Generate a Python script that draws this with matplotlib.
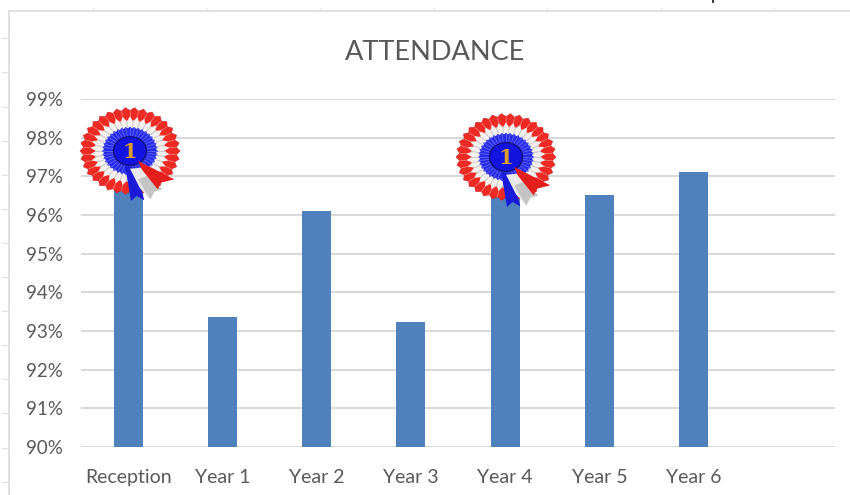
import matplotlib
matplotlib.use("Agg")
import matplotlib.pyplot as plt
from matplotlib.patches import Polygon, Ellipse
import numpy as np

categories = ["Reception", "Year 1", "Year 2", "Year 3", "Year 4", "Year 5", "Year 6", ""]
attendance = [96.7, 93.37, 96.1, 93.22, 96.6, 96.53, 97.1, np.nan]
y_ticks = [90, 91, 92, 93, 94, 95, 96, 97, 98, 99]

# sheet furniture behind the chart, in pixels
top_ticks = [93, 207, 320, 434, 547, 661, 774]
left_ticks = [38, 72, 107, 141, 175, 209, 243, 277, 311, 345, 379, 413, 448, 482]
rosettes = [(130, 151), (506, 157)]

W, H = 850, 495
SQUASH = 0.87  # the rosette picture is stretched sideways
plt.rcParams["font.family"] = ["Lato", "DejaVu Sans"]


def star(cx, cy, n, r_out, r_in, phase=0.0):
    ang = phase + np.pi * np.arange(2 * n) / n
    rad = np.where(np.arange(2 * n) % 2 == 0, r_out, r_in)
    return np.c_[cx + rad * np.cos(ang), cy + SQUASH * rad * np.sin(ang)]


def spokes(ax, cx, cy, angles, r0, r1, color, lw, z):
    for a in angles:
        ax.plot([cx + r0 * np.cos(a), cx + r1 * np.cos(a)],
                [cy + SQUASH * r0 * np.sin(a), cy + SQUASH * r1 * np.sin(a)],
                color=color, lw=lw, zorder=z)


def draw_rosette(ax, cx, cy):
    def rib(pts, color):
        pts = [(cx + (a - 165) / 3, cy + (b - 150) / 3) for a, b in pts]
        ax.add_patch(Polygon(pts, fc=color, ec="none", zorder=6))

    n = 34
    ax.add_patch(Polygon(star(cx, cy, n, 50, 46.5), fc="#ee2a24", ec="#d02020", lw=0.4, zorder=4))
    spokes(ax, cx, cy, np.pi * (2 * np.arange(n) + 1) / n, 40, 46, "#f08a80", 0.5, 4.2)
    ax.add_patch(Polygon(star(cx, cy, n, 40, 34, np.pi / n), fc="#f4f0ee", ec="none", zorder=4.5))
    spokes(ax, cx, cy, 2 * np.pi * np.arange(n) / n, 28, 35, "#c8c8c8", 0.7, 4.6)

    ax.add_patch(Polygon(star(cx, cy, 40, 28, 26), fc="#2a2ae8", ec="none", zorder=5))
    spokes(ax, cx, cy, 2 * np.pi * np.arange(40) / 40, 17, 27, "#5a6cf5", 0.6, 5.1)
    ax.add_patch(Ellipse((cx, cy), 33, 33 * SQUASH, fc="#1414e0", ec="#10107a", lw=1.0, zorder=5.2))
    ax.text(cx, cy + 0.5, "1", family="DejaVu Serif", weight="bold", fontsize=15,
            color="#d9a02e", ha="center", va="center", zorder=5.4)

    rib([(150, 195), (182, 200), (208, 298), (185, 285), (168, 300), (158, 240)], "#1a1ad8")
    rib([(165, 203), (200, 200), (262, 265), (238, 272), (226, 295), (195, 262)], "#e8e8e8")
    rib([(190, 235), (215, 225), (262, 265), (238, 272), (226, 295), (205, 262)], "#c4c4c4")
    rib([(190, 180), (298, 235), (258, 245), (248, 265), (200, 205)], "#e41d1d")


fig = plt.figure(figsize=(W / 100, H / 100), dpi=100)
ax = fig.add_axes([81 / W, 1 - 447 / H, 754 / W, 348 / H])

x = np.arange(len(categories))
ax.bar(x, attendance, width=0.31, color="#4f81bd", zorder=3)

ax.set_xlim(-0.5, 7.5)
ax.set_ylim(90, 99)
ax.set_xticks(x)
ax.set_xticklabels(categories)
ax.set_yticks(y_ticks)
ax.set_yticklabels([f"{v}%" for v in y_ticks])
ax.tick_params(length=0, labelcolor="#595959")
ax.tick_params(axis="x", pad=15.5, labelsize=14)
ax.tick_params(axis="y", pad=13, labelsize=13.5)
ax.grid(axis="y", color="#d9d9d9", lw=1.5, zorder=0)
ax.set_axisbelow(True)
for s in ax.spines.values():
    s.set_visible(False)
ax.patch.set_visible(False)

# overlay in pixel coordinates for the sheet edge and the rosettes
ov = fig.add_axes([0, 0, 1, 1], zorder=5)
ov.set_xlim(0, W)
ov.set_ylim(H, 0)
ov.axis("off")
ov.plot([9.5, W], [10.5, 10.5], color="#e0e0e0", lw=1.4)
ov.plot([9.5, 9.5], [10.5, H], color="#e0e0e0", lw=1.4)
for t in top_ticks:
    ov.plot([t, t], [8, 10], color="#e0e0e0", lw=0.8)
for t in left_ticks:
    ov.plot([2, 9], [t, t], color="#e0e0e0", lw=0.8)
ov.plot([713.5, 713.5], [0, 2], color="#222222", lw=1.3)
ov.text(435, 52, "ATTENDANCE", fontsize=19.5, color="#595959", ha="center", va="center")
for cx, cy in rosettes:
    draw_rosette(ov, cx, cy)

fig.savefig("out.png", dpi=100)
